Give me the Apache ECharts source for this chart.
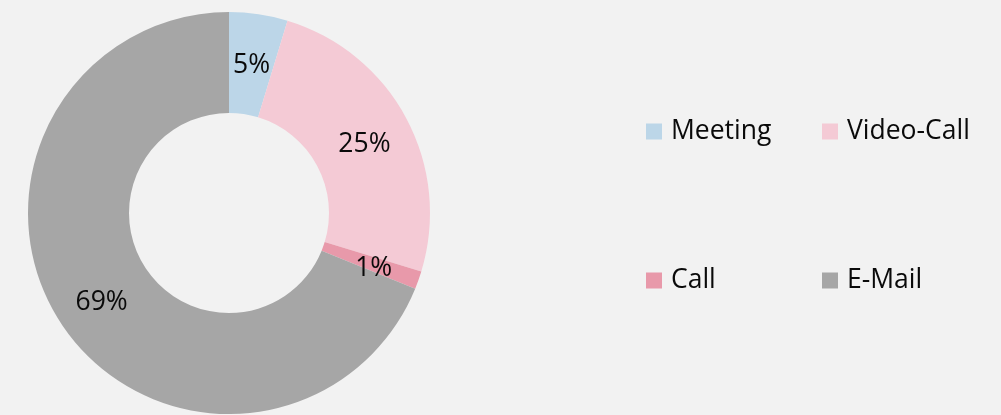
<!DOCTYPE html>
<html>
<head>
<meta charset="utf-8">
<script src="https://cdn.jsdelivr.net/npm/echarts@6/dist/echarts.min.js"></script>
<style>
	html, body { margin: 0; padding: 0; background: #f2f2f2; }
	#chart { width: 1001px; height: 415px; }
</style>
</head>
<body>
<div id="chart"></div>
<script>
// 数据
var categories = ['Meeting', 'Video-Call', 'Call', 'E-Mail'];
var shares = [4.7, 25.0, 1.45, 68.85];
var colors = ['#bcd6e8', '#f4cad5', '#e899aa', '#a6a6a6'];

var myChart = echarts.init(document.getElementById('chart'));

var pieData = categories.map(function(name, i) {
	return { name: name, value: shares[i], itemStyle: { color: colors[i] } };
});

var legendText = {
	fontFamily: 'Open Sans',
	fontSize: 26.5,
	color: '#0a0a0a',
	width: 131,
	lineHeight: 26,
	padding: [0, 0, 0, 4]
};

option = {
	backgroundColor: '#f2f2f2',
	animation: false,
	legend: [ {
		data: [ 'Meeting', 'Video-Call' ],
		left: 646,
		top: 118,
		padding: 0,
		itemWidth: 16,
		itemHeight: 16,
		itemGap: 20,
		icon: 'rect',
		textStyle: legendText
	}, {
		data: [ 'Call', 'E-Mail' ],
		left: 646,
		top: 267,
		padding: 0,
		itemWidth: 16,
		itemHeight: 16,
		itemGap: 20,
		icon: 'rect',
		textStyle: legendText
	} ],
	series: [ {
		type: 'pie',
		center: [ 229, 213 ],
		radius: [ 100, 201 ],
		startAngle: 90,
		clockwise: true,
		avoidLabelOverlap: false,
		label: {
			show: true,
			position: 'inside',
			offset: [ 0, 4 ],
			fontFamily: 'Open Sans',
			fontSize: 26.5,
			color: '#0a0a0a',
			formatter: function(p) {
				return Math.round(p.percent) + '%';
			}
		},
		labelLine: { show: false },
		itemStyle: { borderWidth: 0 },
		emphasis: { disabled: true },
		data: pieData
	} ]
};
myChart.setOption(option);
</script>
</body>
</html>
